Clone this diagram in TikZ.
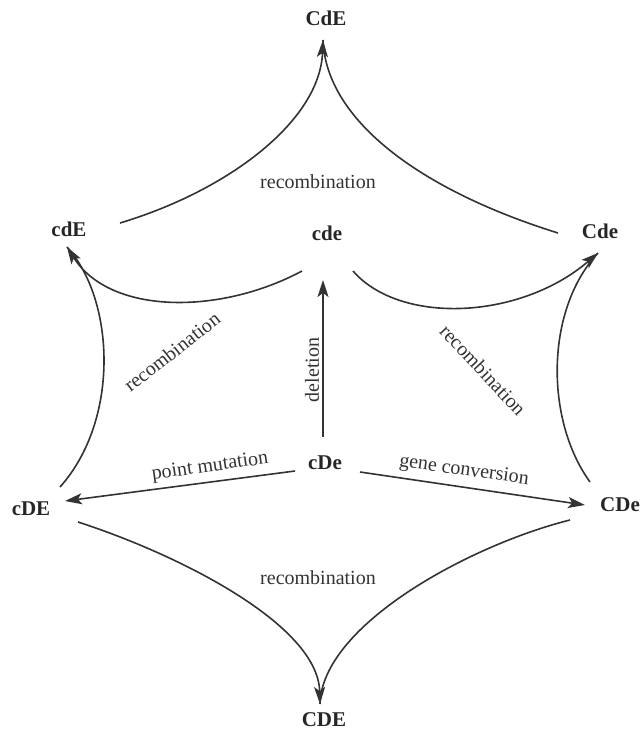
\documentclass[tikz,border=0pt]{standalone}
\usepackage{fontspec}
\setmainfont{Liberation Serif}
\usetikzlibrary{arrows.meta,calc}
\begin{document}
\begin{tikzpicture}[x=0.5pt,y=-0.5pt,
  gene/.style={font=\fontsize{10.5}{12}\selectfont\bfseries, text=black!85, inner sep=0},
  lab/.style={font=\fontsize{10}{12}\selectfont, text=black!80, inner sep=0},
  conn/.style={draw=black!80, line width=0.8pt},
  tip/.style={-{Stealth[length=8.5pt,width=5.5pt,inset=2pt]}}]
\useasboundingbox (0,0) rectangle (641,733);
% genotypes
\node[gene] (CdE) at (326,18) {CdE};
\node[gene] (cdE) at (69,229) {cdE};
\node[gene] (cde) at (327,233) {cde};
\node[gene] (Cde) at (600,231) {Cde};
\node[gene] (cDe) at (325,463) {cDe};
\node[gene] (cDE) at (31,509) {cDE};
\node[gene] (CDe) at (620,505) {CDe};
\node[gene] (CDE) at (324,720) {CDE};
% top recombination
\draw[conn,tip] ($(cdE)+(51,-6)$) .. controls (230,190) and (320,120) .. ($(CdE)+(-3,22)$);
\draw[conn] ($(Cde)+(-42,2)$) .. controls (420,190) and (326,120) .. ($(CdE)+(-3,22)$);
\node[lab] (r1) at (318,182) {recombination};
% left recombination
\draw[conn,tip] ($(cde)+(-25,38)$) .. controls (220,315) and (110,315) .. ($(cdE)+(-2,18)$);
\draw[conn] ($(cDE)+(29,-22)$) .. controls (120,420) and (115,300) .. ($(cdE)+(-2,18)$);
\node[lab,rotate=38] (r2) at (172,352) {recombination};
% right recombination
\draw[conn,tip] ($(cde)+(26,38)$) .. controls (400,325) and (520,320) .. ($(Cde)+(-2,22)$);
\draw[conn] ($(CDe)+(-30,-23)$) .. controls (545,420) and (545,310) .. ($(Cde)+(-2,22)$);
\node[lab,rotate=-47] (r3) at (483,370) {recombination};
% central arrows
\draw[conn,tip] ($(cDe)+(-2,-26)$) -- ($(cde)+(-4,47)$);
\node[lab,rotate=90] (del) at (312,370) {deletion};
\draw[conn,tip] ($(cDe)+(-30,8)$) -- ($(cDE)+(34,-8)$);
\node[lab,rotate=8] (pm) at (210,467) {point mutation};
\draw[conn,tip] ($(cDe)+(35,9)$) -- ($(CDe)+(-35,0)$);
\node[lab,rotate=-8] (gc) at (464,471) {gene conversion};
% bottom recombination
\draw[conn,tip] ($(cDE)+(47,13)$) .. controls (180,555) and (318,625) .. ($(CDE)+(-4,-16)$);
\draw[conn] ($(CDe)+(-50,15)$) .. controls (470,545) and (322,625) .. ($(CDE)+(-4,-16)$);
\node[lab] (r4) at (318,578) {recombination};
\end{tikzpicture}
\end{document}
